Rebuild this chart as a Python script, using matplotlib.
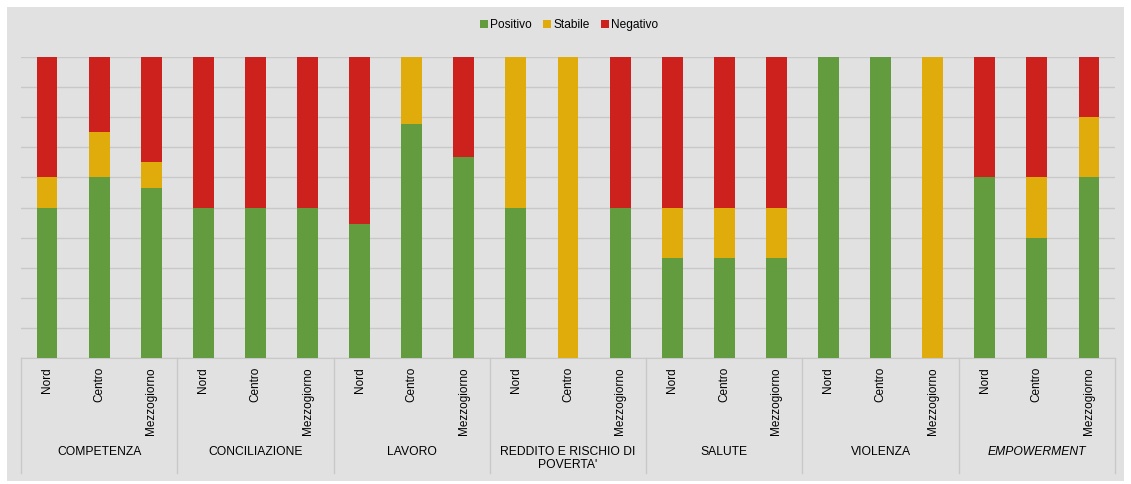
import numpy as np
import matplotlib
matplotlib.use("Agg")
import matplotlib.pyplot as plt
from matplotlib.patches import Rectangle
from matplotlib.transforms import blended_transform_factory

plt.rcParams['font.family'] = ['Liberation Sans', 'DejaVu Sans']

groups = ['COMPETENZA', 'CONCILIAZIONE', 'LAVORO', "REDDITO E RISCHIO DI\nPOVERTA'",
          'SALUTE', 'VIOLENZA', 'EMPOWERMENT']
areas = ['Nord', 'Centro', 'Mezzogiorno']

# percent shares, in order of groups x areas
positivo = [50, 60, 56.5,   50, 50, 50,   44.4, 77.8, 66.7,   50, 0, 50,
            33.3, 33.3, 33.3,   100, 100, 0,   60, 40, 60]
stabile = [10, 15, 8.7,   0, 0, 0,   0, 22.2, 0,   50, 100, 0,
           16.7, 16.7, 16.7,   0, 0, 100,   0, 20, 20]
negativo = [40, 25, 34.8,   50, 50, 50,   55.6, 0, 33.3,   0, 0, 50,
            50, 50, 50,   0, 0, 0,   40, 40, 20]

c_pos = '#629C3E'
c_sta = '#E0AC0B'
c_neg = '#CC211D'

fig = plt.figure(figsize=(11.31, 4.84), dpi=100)
fig.patch.set_facecolor('white')
fig.patches.append(Rectangle((7/1131, 1 - 481/484), 1117/1131, 474/484,
                             transform=fig.transFigure, facecolor='#E1E1E1',
                             edgecolor='none', zorder=0))

ax = fig.add_axes([21/1131, 1 - 358/484, 1094/1131, 301/484])
ax.set_zorder(2)
ax.set_facecolor('#E1E1E1')

x = np.arange(len(positivo))
pos = np.array(positivo) / 100
sta = np.array(stabile) / 100
neg = np.array(negativo) / 100
w = 0.4
ax.bar(x, pos, w, color=c_pos, label='Positivo', zorder=3)
ax.bar(x, sta, w, bottom=pos, color=c_sta, label='Stabile', zorder=3)
ax.bar(x, neg, w, bottom=pos + sta, color=c_neg, label='Negativo', zorder=3)

ax.set_xlim(-0.5, len(x) - 0.5)
ax.set_ylim(0, 1)
ax.set_yticks(np.arange(0, 1.01, 0.1))
ax.set_yticklabels([])
ax.tick_params(axis='y', length=0)
ax.grid(axis='y', color='#C8C8C8', linewidth=1)
ax.set_axisbelow(True)
for s in ['top', 'right', 'left']:
    ax.spines[s].set_visible(False)
ax.spines['bottom'].set_color('#C8C8C8')

ax.set_xticks(x)
ax.set_xticklabels(areas * len(groups), rotation=90, va='top', fontsize=8.5)
ax.tick_params(axis='x', length=0, pad=6.5, colors='black')

trans = blended_transform_factory(ax.transData, ax.transAxes)
y_low = -(473 - 358) / 301
for i in range(len(groups) + 1):
    xs = i * 3 - 0.5
    ax.plot([xs, xs], [0, y_low], transform=trans, color='#C8C8C8',
            linewidth=1, clip_on=False)
for i, g in enumerate(groups):
    ax.text(i * 3 + 1, -(446 - 358) / 301, g, transform=trans, ha='center',
            va='top', fontsize=8.7, linespacing=1.15,
            style='italic' if g == 'EMPOWERMENT' else 'normal')

fig.legend(loc='center', bbox_to_anchor=(569/1131, 1 - 25/484), ncol=3,
           frameon=False, fontsize=8.6, handlelength=0.7, handleheight=0.7,
           handletextpad=0.2, columnspacing=0.9)

fig.savefig('out.png', dpi=100, facecolor='white')
